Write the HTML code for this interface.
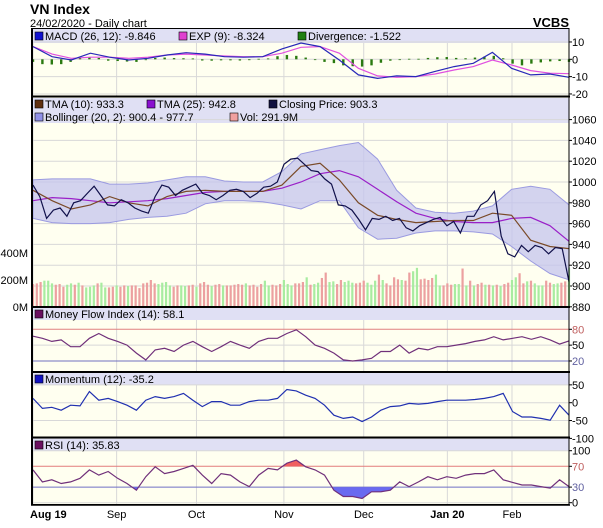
<!DOCTYPE html>
<html><head><meta charset="utf-8"><style>
body{margin:0;background:#fff;width:603px;height:523px;overflow:hidden;font-family:"Liberation Sans",sans-serif}
svg text{font-family:"Liberation Sans",sans-serif}
</style></head><body>
<svg id="c" width="603" height="523" xmlns="http://www.w3.org/2000/svg">
<text x="30" y="14" font-size="14" font-weight="bold" fill="#000">VN Index</text>
<text x="30" y="27" font-size="11" fill="#000">24/02/2020 - Daily chart</text>
<text x="569" y="27" font-size="13" font-weight="bold" text-anchor="end" fill="#000">VCBS</text>
<g id="g"></g>
</svg>
<script>
const closeP=[997,986,965,973,975,967,980,982,989,996,987,978,977,983,980,975,972,970,986,997,995,987,992,995,998,989,987,983,987,992,993,991,985,989,995,996,1000,1017,1022,1023,1017,1011,1010,1003,998,978,977,973,964,954,965,964,967,963,965,956,953,958,961,964,966,958,962,951,967,967,978,982,991,948,931,928,939,933,939,937,931,937,936,904];
const tma10=[992,982,974,978,986,980,977,986,991,992,991,991,991,997,1015,1018,1002,980,968,964,961,962,963,963,970,968,944,938,936];
const tma25=[982,985,984,982,980,981,982,984,987,990,991,991,991,994,1000,1008,1011,1005,993,981,970,965,962,961,961,965,966,958,943];
const bbUpper=[1002,1003,1003,1003,998,998,999,1002,1005,1005,1001,1000,1000,1010,1027,1031,1035,1038,1022,992,975,971,970,972,977,993,996,993,978];
const bbLower=[965,961,960,960,961,964,966,967,970,979,982,982,981,978,974,982,982,956,945,946,951,953,953,952,950,938,924,912,906];
const macd=[7.3,1.5,-0.4,3.5,1.2,-0.4,0.6,2.5,3.8,3,1.5,1.2,1.5,6,9.4,7.3,-0.4,-9,-11,-9.6,-10,-7,-4.2,-2.3,4,-5.2,-9,-8.5,-10.4];
const expS=[7.3,3,0.6,1.2,1.2,0.6,1.2,2.5,3,2.5,1.9,1.5,1.5,3.5,6.9,7.3,3.5,-5.2,-9.6,-10.4,-10,-8.5,-6.2,-4.2,-0.4,-3.3,-6.5,-8,-8.3];
const diverg=[-1.5,-2.8,-3,-2.8,-1.5,0.8,1.2,0.8,-0.8,-1,-1.3,-1.5,-0.5,0.8,1,0.7,0.6,0.5,-0.7,-0.8,-0.6,-0.6,-0.7,-0.5,0.3,0.5,1.8,2.5,2,1,-0.3,-1.5,-2.2,-3.5,-4,-4.2,-3.5,-2,-0.8,0,0.3,0.3,0.8,1.2,1.3,0.8,0.6,1,1.5,2,0.6,-2.5,-3.5,-2.5,-1.8,-1.2,-1,-1.5];
const volume=[170,175,185,195,195,175,165,170,150,165,175,165,180,160,145,150,160,175,180,145,145,150,
160,150,160,155,160,160,140,175,180,200,175,170,180,185,160,150,160,160,155,160,165,
150,175,185,165,155,165,170,160,160,160,165,170,165,175,160,165,150,170,195,160,165,160,170,
200,170,160,175,175,185,220,165,170,180,215,255,185,190,170,200,185,195,180,175,180,
195,180,165,195,240,200,175,160,220,205,200,195,255,265,290,205,210,200,215,240,160,160,
175,165,170,170,285,160,195,160,170,180,165,165,160,165,155,170,180,
200,220,250,175,190,195,175,160,160,195,180,170,175,180,190,292];
const volDir="rrrgggrrrggrgrgggrggrrgrrgrrrrrrrggggrrggrrgrrrgrrgrrrrrgrrrrggrrrgggrrrgrggrrggrrgggrrrgggrgrrrrgrrggrrrrggrrrggrgrgrrgrgrgrrggrrgrgggrrggrrgggggr";
const mfi=[67,63,57,60,47,47,63,72,63,57,50,35,22,41,44,38,50,57,47,38,47,57,50,44,57,63,63,72,79,66,50,44,35,22,20,22,25,38,38,50,35,44,41,47,47,50,53,57,60,66,60,63,66,61,66,60,52,58];
const momentum=[12,-16,-13,-21,-7,-9,31,7,12,3,-7,-21,7,17,12,17,26,7,-11,3,3,-7,-7,3,7,7,12,37,33,21,12,-7,-35,-44,-40,-53,-40,-21,-11,-9,-2,-4,-2,3,7,7,7,9,12,17,26,-25,-40,-40,-44,-49,-7,-35];
const rsi=[63,40,44,37,40,47,63,53,60,47,37,24,50,69,56,60,66,72,53,37,56,53,40,31,53,66,63,76,82,69,63,53,24,12,12,8,21,21,24,40,31,40,50,44,50,47,53,56,56,63,44,39,34,34,31,28,44,31];
const priceTicks=[1060,1040,1020,1000,980,960,940,920,900,880];
const macdTicks=[10,0,-10,-20];
const volTicks=["400M","200M","0M"];
const volTickVals=[400,200,0];
const mfiTicks=[80,50,20];
const momTicks=[50,0,-50,-100];
const rsiTicks=[100,70,30,0];
const months=["Aug 19","Sep","Oct","Nov","Dec","Jan 20","Feb"];
const monthDay=[0,22,43,66,87,109,126];

const NS="http://www.w3.org/2000/svg", G=document.getElementById('g');
const X0=33,X1=569,NDAYS=142;
function mk(t,a,p){const e=document.createElementNS(NS,t);for(const k in a)e.setAttribute(k,a[k]);(p||G).appendChild(e);return e;}
function xs(i,n){return X0+i*(X1-X0)/(n-1);}
const yPrice=v=>182+(1000-v)*1.04, yVol=v=>307-v*0.135, yMacd=v=>59.3-v*1.733;
const yMfi=v=>329.3+(80-v)*0.528, yMom=v=>402.7-v*0.357, yRsi=v=>502.7-v*0.52;
function pts(arr,fy){return arr.map((v,i)=>xs(i,arr.length).toFixed(1)+','+fy(v).toFixed(1)).join(' ');}

const panels=[[28,96,43],[97,307,123],[307,372,320],[372,437,385],[437,505,451]];
panels.forEach((p,k)=>{
  const bg=mk('rect',{x:X0-1,y:p[0],width:X1-X0+1,height:p[1]-p[0],fill:'#fffff0'});
  
  
  const band=mk('rect',{x:X0,y:p[0]+1,width:X1-X0,height:p[2]-p[0]-1,fill:'#e0e0f4'});
  
  
});
monthDay.forEach((d,i)=>{
  const x=X0+d*(X1-X0)/(NDAYS-1);
  panels.forEach(p=>{const l=mk('line',{x1:x,x2:x,y1:p[2],y2:p[1],stroke:'#d8d8d8','stroke-width':1});
  
  });
  const t=mk('text',{x:i==0?X0-3:x,y:518,'font-size':11,'text-anchor':i==0?'start':'middle','font-weight':(i==0||i==5)?'bold':'normal'});
  t.textContent=months[i];
  
  
});
function hgrid(ticks,fy,labels,colors){
  ticks.forEach((v,i)=>{const y=fy(v);
    const c=colors?colors[i]:'#d8d8d8';
    const l=mk('line',{x1:X0,x2:X1,y1:y,y2:y,stroke:c,'stroke-width':1});
    
    
    mk('line',{x1:X1,x2:X1+3,y1:y,y2:y,stroke:'#000'});
    const t=mk('text',{x:572,y:y+4,'font-size':11,fill:(colors&&colors[i]!='#d8d8d8')?colors[i].replace('#e08080','#c06060').replace('#7070c0','#6060a0'):'#000'});
    t.textContent=labels?labels[i]:v;
    
    });
}
hgrid(macdTicks,yMacd);
hgrid(priceTicks,yPrice);
hgrid(mfiTicks,yMfi,null,['#e08080','#d8d8d8','#7070c0']);
hgrid(momTicks,yMom);
hgrid(rsiTicks,yRsi,null,['#d8d8d8','#e08080','#7070c0','#d8d8d8']);
volTickVals.forEach((v,i)=>{const t=mk('text',{x:28,y:yVol(v)+4,'font-size':11,'text-anchor':'end'});t.textContent=volTicks[i];
  
  });

diverg.forEach((v,i)=>{const x=xs(i,diverg.length),y0=yMacd(0),y=yMacd(v);
  const r=mk('rect',{x:x-1.2,y:Math.min(y,y0),width:2.4,height:Math.max(0.8,Math.abs(y-y0)),fill:'#2a7a10'});
  
  });
let e=mk('polyline',{points:pts(expS,yMacd),fill:'none',stroke:'#e050e0','stroke-width':1.2});

e=mk('polyline',{points:pts(macd,yMacd),fill:'none',stroke:'#2828b8','stroke-width':1.2});


volume.forEach((v,i)=>{const x=xs(i,volume.length);
  const r=mk('rect',{x:x-1.1,y:yVol(v),width:2.2,height:yVol(0)-yVol(v),fill:volDir[i]=='g'?'#a8eca0':'#eca0a0'});
  
  });
const bb=pts(bbUpper,yPrice)+' '+bbLower.map((v,i)=>xs(i,bbLower.length).toFixed(1)+','+yPrice(v).toFixed(1)).reverse().join(' ');
e=mk('polygon',{points:bb,fill:'#c4c4ee','fill-opacity':0.75,stroke:'#9a9ae0','stroke-width':1});

e=mk('polyline',{points:pts(tma25,yPrice),fill:'none',stroke:'#9a20c8','stroke-width':1.2});

e=mk('polyline',{points:pts(tma10,yPrice),fill:'none',stroke:'#7a4a28','stroke-width':1.2});

e=mk('polyline',{points:pts(closeP,yPrice),fill:'none',stroke:'#10104a','stroke-width':1.2});


const defs=mk('defs',{});
function clip(id,y1,y2){const c=mk('clipPath',{id:id},defs);mk('rect',{x:0,y:y1,width:603,height:y2-y1},c);}
clip('mfiLow',yMfi(20),372);clip('rsiHigh',437,yRsi(70));clip('rsiLow',yRsi(30),505);
function fillArea(arr,fy,base,cl,col,name){
  const p=xs(0,arr.length)+','+fy(base)+' '+pts(arr,fy)+' '+xs(arr.length-1,arr.length)+','+fy(base);
  const el=mk('polygon',{points:p,fill:col,'clip-path':'url(#'+cl+')'});
  
  
}
fillArea(mfi,yMfi,20,'mfiLow','#6a6af0','mfi-oversold-fill');
fillArea(rsi,yRsi,70,'rsiHigh','#f06060','rsi-overbought-fill');
fillArea(rsi,yRsi,30,'rsiLow','#6a6af0','rsi-oversold-fill');
e=mk('polyline',{points:pts(mfi,yMfi),fill:'none',stroke:'#70307a','stroke-width':1.2});

e=mk('polyline',{points:pts(momentum,yMom),fill:'none',stroke:'#2030b0','stroke-width':1.2});

e=mk('polyline',{points:pts(rsi,yRsi),fill:'none',stroke:'#70307a','stroke-width':1.2});


[96.5,307,372,437.5].forEach(y=>{const l=mk('line',{x1:X0-2,x2:X1+1,y1:y,y2:y,stroke:'#000','stroke-width':2});
  });
mk('rect',{x:X0-1,y:28.5,width:X1-X0+1,height:476,fill:'none',stroke:'#000','stroke-width':1});
mk('line',{x1:X0-1,x2:X0-1,y1:28,y2:505,stroke:'#000','stroke-width':2});
mk('line',{x1:X0-2,x2:X1+1,y1:505,y2:505,stroke:'#000','stroke-width':1.5});

function legend(x,y,col,txt){const r=mk('rect',{x:x,y:y-8,width:8,height:8,fill:col,stroke:'#000','stroke-width':0.6});
  
  const t=mk('text',{x:x+10,y:y,'font-size':11});t.textContent=txt;
  }
legend(35,40,'#1010d0','MACD (26, 12): -9.846');
legend(179,40,'#e040d0','EXP (9): -8.324');
legend(298,40,'#208010','Divergence: -1.522');
legend(35,108,'#603010','TMA (10): 933.3');
legend(147,108,'#8a10d0','TMA (25): 942.8');
legend(269,108,'#101040','Closing Price: 903.3');
legend(35,121,'#9090e8','Bollinger (20, 2): 900.4 - 977.7');
legend(230,121,'#f0a0a0','Vol: 291.9M');
legend(35,318,'#6a1060','Money Flow Index (14): 58.1');
legend(35,383,'#1010c0','Momentum (12): -35.2');
legend(35,449,'#6a1060','RSI (14): 35.83');
</script>
</body></html>
